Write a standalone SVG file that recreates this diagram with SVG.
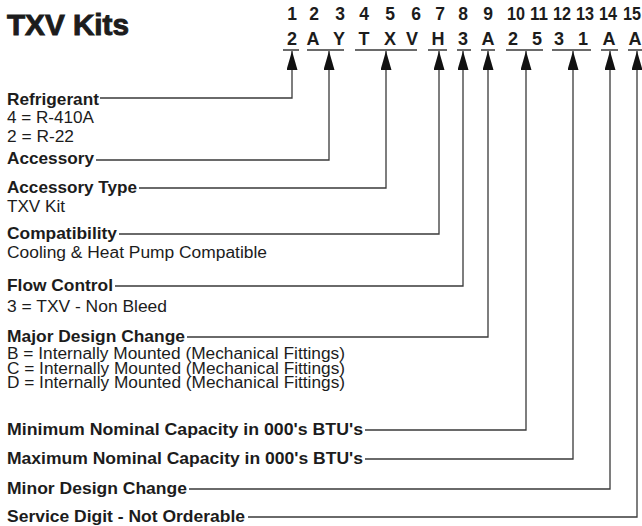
<svg xmlns="http://www.w3.org/2000/svg" width="642" height="526" viewBox="0 0 642 526">
<style>
text{font-family:"Liberation Sans",Arial,sans-serif;fill:#1c1c1c}
.t{font-size:30px;font-weight:bold;stroke:#1c1c1c;stroke-width:1}
.n{font-size:17.5px;font-weight:bold;text-anchor:middle}
.c{font-size:18px;font-weight:bold;text-anchor:middle}
.b{font-size:16.5px;font-weight:bold}
.r{font-size:16px}
.u{stroke:#3a3a3a;stroke-width:1.3;fill:none}
.k{stroke:#3a3a3a;stroke-width:1.3;fill:none;marker-end:url(#ah)}
</style>
<defs>
<marker id="ah" markerUnits="userSpaceOnUse" viewBox="0 0 19 11" refX="19" refY="5.5" markerWidth="19" markerHeight="11" orient="auto">
<path d="M0,0 L19,5.5 L0,11 z" fill="#111"/>
</marker>
</defs>
<rect width="642" height="526" fill="#fff"/>
<g id="title"><text class="t" x="7" y="35" textLength="122" lengthAdjust="spacingAndGlyphs">TXV Kits</text></g>
<g id="code">
<text class="n" x="292" y="20">1</text><text class="n" x="314" y="20">2</text><text class="n" x="340" y="20">3</text><text class="n" x="364" y="20">4</text><text class="n" x="390" y="20">5</text><text class="n" x="416" y="20">6</text><text class="n" x="440" y="20">7</text><text class="n" x="463" y="20">8</text><text class="n" x="488" y="20">9</text><text class="n" x="516" y="20" textLength="18" lengthAdjust="spacingAndGlyphs">10</text><text class="n" x="539" y="20" textLength="18" lengthAdjust="spacingAndGlyphs">11</text><text class="n" x="562" y="20" textLength="18" lengthAdjust="spacingAndGlyphs">12</text><text class="n" x="585" y="20" textLength="18" lengthAdjust="spacingAndGlyphs">13</text><text class="n" x="608" y="20" textLength="18" lengthAdjust="spacingAndGlyphs">14</text><text class="n" x="632" y="20" textLength="18" lengthAdjust="spacingAndGlyphs">15</text>
<text class="c" x="292" y="45">2</text><text class="c" x="313" y="45">A</text><text class="c" x="339" y="45">Y</text><text class="c" x="364" y="45">T</text><text class="c" x="390" y="45">X</text><text class="c" x="412" y="45">V</text><text class="c" x="438" y="45">H</text><text class="c" x="463" y="45">3</text><text class="c" x="488" y="45">A</text><text class="c" x="513" y="45">2</text><text class="c" x="537" y="45">5</text><text class="c" x="559" y="45">3</text><text class="c" x="583" y="45">1</text><text class="c" x="609" y="45">A</text><text class="c" x="635" y="45">A</text>
<path class="u" d="M283,50H299M307,50H344M355,50H417M428,50H447M457,50H471M481,50H495M506,50H543M552,50H591M601,50H618M628,50H642"/>
</g>
<g id="refrigerant"><text class="b" x="7" y="105" textLength="92" lengthAdjust="spacingAndGlyphs">Refrigerant</text><text class="r" x="7" y="123" textLength="87" lengthAdjust="spacingAndGlyphs">4 = R-410A</text><text class="r" x="7" y="142" textLength="67" lengthAdjust="spacingAndGlyphs">2 = R-22</text></g>
<g id="accessory"><text class="b" x="7" y="164" textLength="87" lengthAdjust="spacingAndGlyphs">Accessory</text></g>
<g id="accessory-type"><text class="b" x="7" y="193" textLength="130" lengthAdjust="spacingAndGlyphs">Accessory Type</text><text class="r" x="7" y="212" textLength="58" lengthAdjust="spacingAndGlyphs">TXV Kit</text></g>
<g id="compatibility"><text class="b" x="7" y="239" textLength="110" lengthAdjust="spacingAndGlyphs">Compatibility</text><text class="r" x="7" y="258" textLength="260" lengthAdjust="spacingAndGlyphs">Cooling &amp; Heat Pump Compatible</text></g>
<g id="flow-control"><text class="b" x="7" y="291" textLength="106" lengthAdjust="spacingAndGlyphs">Flow Control</text><text class="r" x="7" y="312" textLength="160" lengthAdjust="spacingAndGlyphs">3 = TXV - Non Bleed</text></g>
<g id="major-design"><text class="b" x="7" y="342" textLength="178" lengthAdjust="spacingAndGlyphs">Major Design Change</text><text class="r" x="7" y="359" textLength="338" lengthAdjust="spacingAndGlyphs">B = Internally Mounted (Mechanical Fittings)</text><text class="r" x="7" y="374" textLength="338" lengthAdjust="spacingAndGlyphs">C = Internally Mounted (Mechanical Fittings)</text><text class="r" x="7" y="388" textLength="338" lengthAdjust="spacingAndGlyphs">D = Internally Mounted (Mechanical Fittings)</text></g>
<g id="min-capacity"><text class="b" x="7" y="435" textLength="356" lengthAdjust="spacingAndGlyphs">Minimum Nominal Capacity in 000's BTU's</text></g>
<g id="max-capacity"><text class="b" x="7" y="464" textLength="356" lengthAdjust="spacingAndGlyphs">Maximum Nominal Capacity in 000's BTU's</text></g>
<g id="minor-design"><text class="b" x="7" y="494" textLength="180" lengthAdjust="spacingAndGlyphs">Minor Design Change</text></g>
<g id="service-digit"><text class="b" x="7" y="522" textLength="238" lengthAdjust="spacingAndGlyphs">Service Digit - Not Orderable</text></g>
<g id="connectors">
<path class="k" d="M100,98H292V51"/>
<path class="k" d="M96,160H329V51"/>
<path class="k" d="M139,188H386V51"/>
<path class="k" d="M119,234H439V51"/>
<path class="k" d="M115,286H463V51"/>
<path class="k" d="M187,337H488V51"/>
<path class="k" d="M365,430H526V51"/>
<path class="k" d="M365,459H573V51"/>
<path class="k" d="M189,489H610V51"/>
<path class="k" d="M248,517H637V51"/>
</g>
</svg>
